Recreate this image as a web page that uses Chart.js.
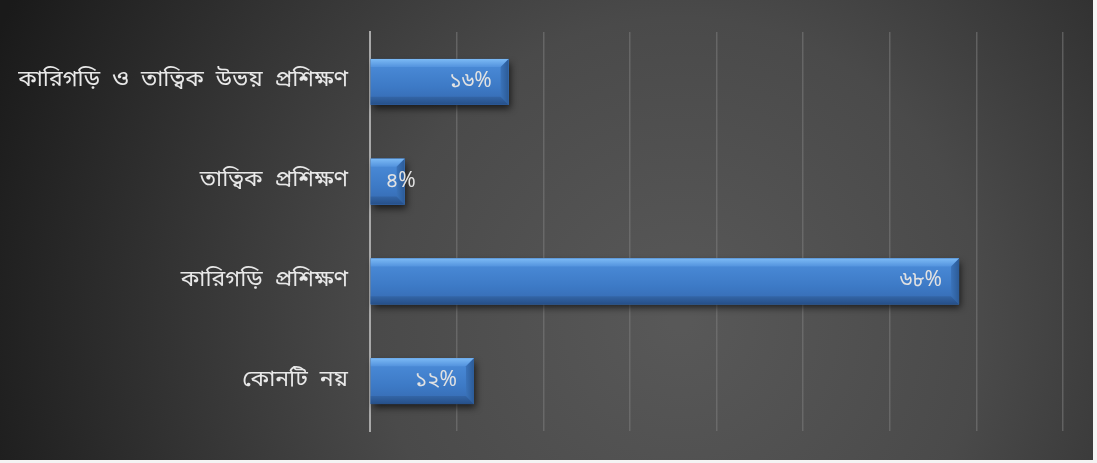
<!DOCTYPE html>
<html>
<head>
<meta charset="utf-8">
<script src="https://cdn.jsdelivr.net/npm/chart.js@4.4.1/dist/chart.umd.min.js"></script>
<style>
  html, body { margin: 0; padding: 0; background: #f4f4f4; }
  #wrap { position: relative; width: 1097px; height: 463px; }
</style>
</head>
<body>
<div id="wrap"><canvas id="trainingChart" width="1097" height="463"></canvas></div>
<script>
const categories = ['কারিগড়ি  ও  তাত্বিক  উভয়  প্রশিক্ষণ', 'তাত্বিক  প্রশিক্ষণ', 'কারিগড়ি  প্রশিক্ষণ', 'কোনটি  নয়'];
const percentValues = [16, 4, 68, 12];
const valueLabels = ['১৬%', '৪%', '৬৮%', '১২%'];

const labelFont = "'Noto Sans Bengali', 'Noto Sans', 'DejaVu Sans', sans-serif";

// dark radial backdrop behind the plot
const backdrop = {
  id: 'backdrop',
  beforeDraw(chart) {
    const ctx = chart.ctx;
    ctx.save();
    ctx.fillStyle = '#f4f4f4';
    ctx.fillRect(0, 0, chart.width, chart.height);
    const g = ctx.createRadialGradient(680, 320, 10, 680, 320, 740);
    g.addColorStop(0, '#585858');
    g.addColorStop(0.4, '#4a4a4a');
    g.addColorStop(0.75, '#2e2e2e');
    g.addColorStop(1, '#1a1a1a');
    ctx.fillStyle = g;
    ctx.fillRect(0, 0, 1093, 460);
    ctx.restore();
  }
};

// bevelled bars with drop shadow
const bevel = {
  id: 'bevel',
  beforeDatasetsDraw(chart) {
    const ctx = chart.ctx;
    chart.getDatasetMeta(0).data.forEach(bar => {
      const top = bar.y - bar.height / 2;
      ctx.save();
      ctx.shadowColor = 'rgba(0,0,0,0.65)';
      ctx.shadowBlur = 7;
      ctx.shadowOffsetX = 2;
      ctx.shadowOffsetY = 4;
      ctx.fillStyle = '#2e5f9c';
      ctx.fillRect(bar.base, top, bar.x - bar.base, bar.height);
      ctx.restore();
    });
  },
  afterDatasetsDraw(chart) {
    const ctx = chart.ctx;
    chart.getDatasetMeta(0).data.forEach((bar, i) => {
      const x0 = bar.base, x1 = bar.x;
      const y0 = bar.y - bar.height / 2, y1 = bar.y + bar.height / 2;
      const b = Math.min(8, (x1 - x0) / 2);
      ctx.save();
      // front face
      let g = ctx.createLinearGradient(0, y0, 0, y1);
      g.addColorStop(0, '#4d8edb');
      g.addColorStop(0.6, '#3d7ac6');
      g.addColorStop(1, '#3569b0');
      ctx.fillStyle = g;
      ctx.fillRect(x0, y0, x1 - x0, y1 - y0);
      // top face
      g = ctx.createLinearGradient(0, y0, 0, y0 + b);
      g.addColorStop(0, '#7cbaf5');
      g.addColorStop(1, '#5393de');
      ctx.fillStyle = g;
      ctx.beginPath();
      ctx.moveTo(x0, y0); ctx.lineTo(x1, y0); ctx.lineTo(x1 - b, y0 + b); ctx.lineTo(x0, y0 + b);
      ctx.closePath(); ctx.fill();
      // right face
      g = ctx.createLinearGradient(x1 - b, 0, x1, 0);
      g.addColorStop(0, '#3a73ba');
      g.addColorStop(1, '#2c5b97');
      ctx.fillStyle = g;
      ctx.beginPath();
      ctx.moveTo(x1, y0); ctx.lineTo(x1, y1); ctx.lineTo(x1 - b, y1 - b); ctx.lineTo(x1 - b, y0 + b);
      ctx.closePath(); ctx.fill();
      // bottom face
      g = ctx.createLinearGradient(0, y1 - b, 0, y1);
      g.addColorStop(0, '#3365a6');
      g.addColorStop(1, '#264f88');
      ctx.fillStyle = g;
      ctx.beginPath();
      ctx.moveTo(x0, y1); ctx.lineTo(x1, y1); ctx.lineTo(x1 - b, y1 - b); ctx.lineTo(x0, y1 - b);
      ctx.closePath(); ctx.fill();
      // value label, inside the end of the bar when it fits
      const text = valueLabels[i];
      ctx.fillStyle = '#e2e2e2';
      ctx.font = '21px ' + labelFont;
      ctx.textBaseline = 'middle';
      const w = ctx.measureText(text).width;
      if (x1 - x0 > w + 34) {
        ctx.textAlign = 'right';
        ctx.fillText(text, x1 - 17, bar.y + 1);
      } else {
        ctx.textAlign = 'left';
        ctx.fillText(text, x0 + 15, bar.y + 1);
      }
      ctx.restore();
    });
  }
};

new Chart(document.getElementById('trainingChart'), {
  type: 'bar',
  data: {
    labels: categories,
    datasets: [{
      data: percentValues,
      backgroundColor: '#3f7bc6',
      borderWidth: 0,
      categoryPercentage: 1,
      barPercentage: 0.46
    }]
  },
  options: {
    indexAxis: 'y',
    responsive: false,
    animation: false,
    layout: { padding: { top: 32, bottom: 32, right: 34, left: 0 } },
    plugins: { legend: { display: false }, tooltip: { enabled: false } },
    scales: {
      x: {
        min: 0, max: 80,
        ticks: { display: false, stepSize: 10 },
        grid: { color: 'rgba(125,125,125,0.55)', lineWidth: 1.5, drawTicks: false },
        border: { display: false },
        afterFit(scale) { scale.height = 0; scale.paddingLeft = 0; scale.paddingRight = 0; }
      },
      y: {
        afterFit(scale) { scale.width = 370; scale.paddingTop = 0; scale.paddingBottom = 0; },
        ticks: { color: '#e8e8e8', font: { family: labelFont, size: 23 }, padding: 22 },
        grid: { display: false, drawTicks: false },
        border: { color: '#a8a8a8', width: 2 }
      }
    }
  },
  plugins: [backdrop, bevel]
});
</script>
</body>
</html>
